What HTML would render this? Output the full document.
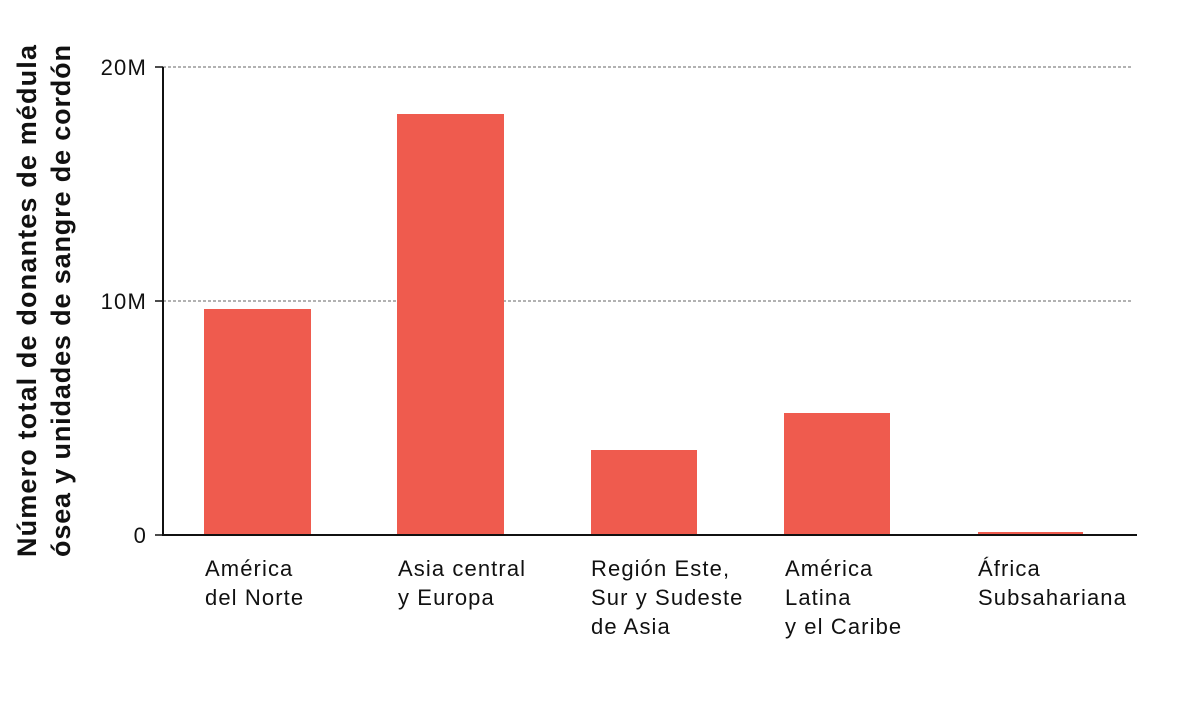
<!DOCTYPE html>
<html><head><meta charset="utf-8"><style>
body{margin:0;background:#fff;}
svg text{font-family:"Liberation Sans",sans-serif;fill:#111;}
</style></head><body>
<svg width="1200" height="704" viewBox="0 0 1200 704" xmlns="http://www.w3.org/2000/svg">
<line x1="163" y1="67" x2="1133" y2="67" stroke="#666" stroke-width="1" stroke-dasharray="3,2"/>
<line x1="163" y1="301" x2="1133" y2="301" stroke="#666" stroke-width="1" stroke-dasharray="3,2"/>
<line x1="155" y1="67" x2="163" y2="67" stroke="#111" stroke-width="1.5"/>
<line x1="155" y1="301" x2="163" y2="301" stroke="#111" stroke-width="1.5"/>
<line x1="155" y1="535" x2="163" y2="535" stroke="#111" stroke-width="1.5"/>
<g fill="#EF5B4E">
<rect x="204" y="309" width="107" height="226"/>
<rect x="397" y="114" width="107" height="421"/>
<rect x="591" y="450" width="106" height="85"/>
<rect x="784" y="413" width="106" height="122"/>
<rect x="978" y="532" width="105" height="3"/>
</g>
<line x1="163" y1="67" x2="163" y2="536" stroke="#111" stroke-width="2"/>
<line x1="162" y1="535" x2="1137" y2="535" stroke="#111" stroke-width="2"/>
<g font-size="22" text-anchor="end" letter-spacing="1.2">
<text x="147" y="75">20M</text>
<text x="147" y="309">10M</text>
<text x="147" y="543">0</text>
</g>
<g font-size="22" letter-spacing="1.1">
<text x="205" y="576">América</text><text x="205" y="605">del Norte</text>
<text x="398" y="576">Asia central</text><text x="398" y="605">y Europa</text>
<text x="591" y="576">Región Este,</text><text x="591" y="605">Sur y Sudeste</text><text x="591" y="634">de Asia</text>
<text x="785" y="576">América</text><text x="785" y="605">Latina</text><text x="785" y="634">y el Caribe</text>
<text x="978" y="576">África</text><text x="978" y="605">Subsahariana</text>
</g>
<g font-size="27" font-weight="bold">
<text transform="translate(36,557) rotate(-90)" textLength="512" lengthAdjust="spacing">Número total de donantes de médula</text>
<text transform="translate(70,557) rotate(-90)" textLength="512" lengthAdjust="spacing">ósea y unidades de sangre de cordón</text>
</g>
</svg>
</body></html>
